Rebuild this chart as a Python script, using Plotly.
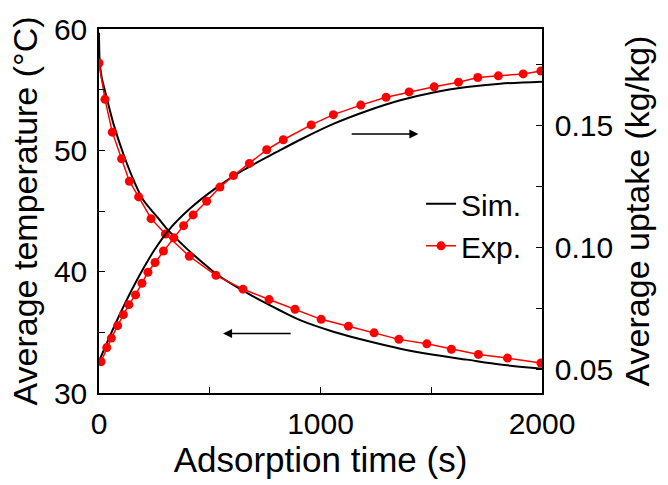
import plotly.graph_objects as go

# Simulated average bed temperature (°C) vs adsorption time (s)
sim_temp_time = [0, 3, 12, 27, 65, 110, 155, 200, 268, 313, 396, 471, 546, 682, 818,
                 908, 1058, 1209, 1360, 1510, 1661, 1811, 2000]
sim_temp = [59.7, 57.4, 56.0, 54.9, 52.2, 49.7, 47.6, 45.9, 44.4, 43.4, 41.9, 40.7, 39.6,
            38.1, 36.8, 36.0, 35.05, 34.3, 33.65, 33.15, 32.75, 32.35, 32.0]

# Simulated average uptake (kg/kg) vs adsorption time (s)
sim_uptake_time = [0, 50, 100, 150, 200, 250, 313, 411, 532, 652, 803, 908, 1058, 1209,
                   1360, 1510, 1661, 1811, 2000]
sim_uptake = [0.0532, 0.0637, 0.0736, 0.0828, 0.0912, 0.0988, 0.1068, 0.1158, 0.1245,
              0.1316, 0.1390, 0.1440, 0.1505, 0.1558, 0.1602, 0.1634, 0.1656, 0.1670,
              0.1678]

# Measured average temperature
exp_temp_time = [0, 27, 60, 102, 137, 179, 235, 300, 408, 528, 650, 768, 885, 1003,
                 1126, 1242, 1354, 1480, 1591, 1713, 1844, 1995]
exp_temp = [57.2, 54.2, 51.5, 49.3, 47.45, 46.16, 44.37, 43.1, 41.27, 39.7, 38.56, 37.7,
            36.9, 36.07, 35.51, 34.96, 34.42, 34.05, 33.61, 33.18, 32.88, 32.47]

# Measured average uptake
exp_uptake_time = [9, 35, 56, 84, 110, 135, 165, 194, 221, 253, 291, 338, 382, 425, 486,
                   546, 607, 679, 757, 832, 958, 1058, 1182, 1296, 1400, 1513, 1623,
                   1710, 1803, 1915, 1995]
exp_uptake = [0.0530, 0.0588, 0.0627, 0.0678, 0.0723, 0.0764, 0.0804, 0.0852, 0.0897,
              0.0937, 0.0984, 0.1038, 0.1088, 0.1132, 0.1188, 0.1246, 0.1293, 0.1343,
              0.1399, 0.1440, 0.1501, 0.1543, 0.1582, 0.1614, 0.1636, 0.1657, 0.1676,
              0.1695, 0.1702, 0.1710, 0.1722]

FONT = "Arial, Liberation Sans, sans-serif"
BLACK = "#000000"
RED = "#ff0000"

fig = go.Figure()

fig.add_trace(go.Scatter(
    x=sim_temp_time, y=sim_temp, name="Sim.", mode="lines",
    line=dict(color=BLACK, width=2, shape="spline", smoothing=0.8),
))
fig.add_trace(go.Scatter(
    x=exp_temp_time, y=exp_temp, name="Exp.", mode="lines+markers",
    line=dict(color=RED, width=1.5),
    marker=dict(color=RED, size=9, symbol="circle"),
))
fig.add_trace(go.Scatter(
    x=sim_uptake_time, y=sim_uptake, name="Sim.", mode="lines", yaxis="y2",
    showlegend=False,
    line=dict(color=BLACK, width=2, shape="spline", smoothing=0.8),
))
fig.add_trace(go.Scatter(
    x=exp_uptake_time, y=exp_uptake, name="Exp.", mode="lines+markers", yaxis="y2",
    showlegend=False,
    line=dict(color=RED, width=1.5),
    marker=dict(color=RED, size=9, symbol="circle"),
))

axis_common = dict(
    showline=True, linecolor=BLACK, linewidth=1.5,
    ticks="inside", ticklen=6, tickwidth=1.2, tickcolor=BLACK,
    showgrid=False, zeroline=False,
    tickfont=dict(family=FONT, size=30, color=BLACK),
)
minor_ticks = dict(ticks="inside", ticklen=6, tickcolor=BLACK, tickwidth=1.2)

fig.update_layout(
    width=668, height=485,
    margin=dict(l=99, r=126, t=23, b=92),
    paper_bgcolor="white", plot_bgcolor="white",
    font=dict(family=FONT, color=BLACK),
    xaxis=dict(
        **axis_common,
        range=[0, 2000], dtick=1000, tick0=0, mirror=True,
        minor=dict(dtick=500, **minor_ticks),
        ticklabelstandoff=3,
        title=dict(text="Adsorption time (s)", font=dict(family=FONT, size=35, color=BLACK),
                   standoff=4),
    ),
    yaxis=dict(
        **axis_common,
        range=[30, 60], dtick=10, tick0=30,
        minor=dict(dtick=5, **minor_ticks),
        ticklabelstandoff=4,
        title=dict(text="Average temperature (°C)", font=dict(family=FONT, size=34, color=BLACK),
                   standoff=6),
    ),
    yaxis2=dict(
        **axis_common,
        overlaying="y", side="right",
        range=[0.0402, 0.1894], dtick=0.05, tick0=0.05, tickformat=".2f",
        minor=dict(dtick=0.025, **minor_ticks),
        ticklabelstandoff=5,
        title=dict(text="Average uptake (kg/kg)", font=dict(family=FONT, size=34, color=BLACK),
                   standoff=13),
    ),
    legend=dict(
        x=0.727, y=0.462, xanchor="left", yanchor="middle",
        bgcolor="rgba(0,0,0,0)", borderwidth=0,
        font=dict(family=FONT, size=30, color=BLACK),
    ),
    showlegend=True,
)

# Arrows pointing each curve to its own axis
fig.add_annotation(x=1442, y=51.35, ax=1134, ay=51.35, xref="x", yref="y",
                   axref="x", ayref="y", text="", showarrow=True,
                   arrowhead=2, arrowsize=1.2, arrowwidth=1.5, arrowcolor=BLACK)
fig.add_annotation(x=560, y=34.9, ax=872, ay=34.9, xref="x", yref="y",
                   axref="x", ayref="y", text="", showarrow=True,
                   arrowhead=2, arrowsize=1.2, arrowwidth=1.5, arrowcolor=BLACK)

fig.write_html("out.html")
